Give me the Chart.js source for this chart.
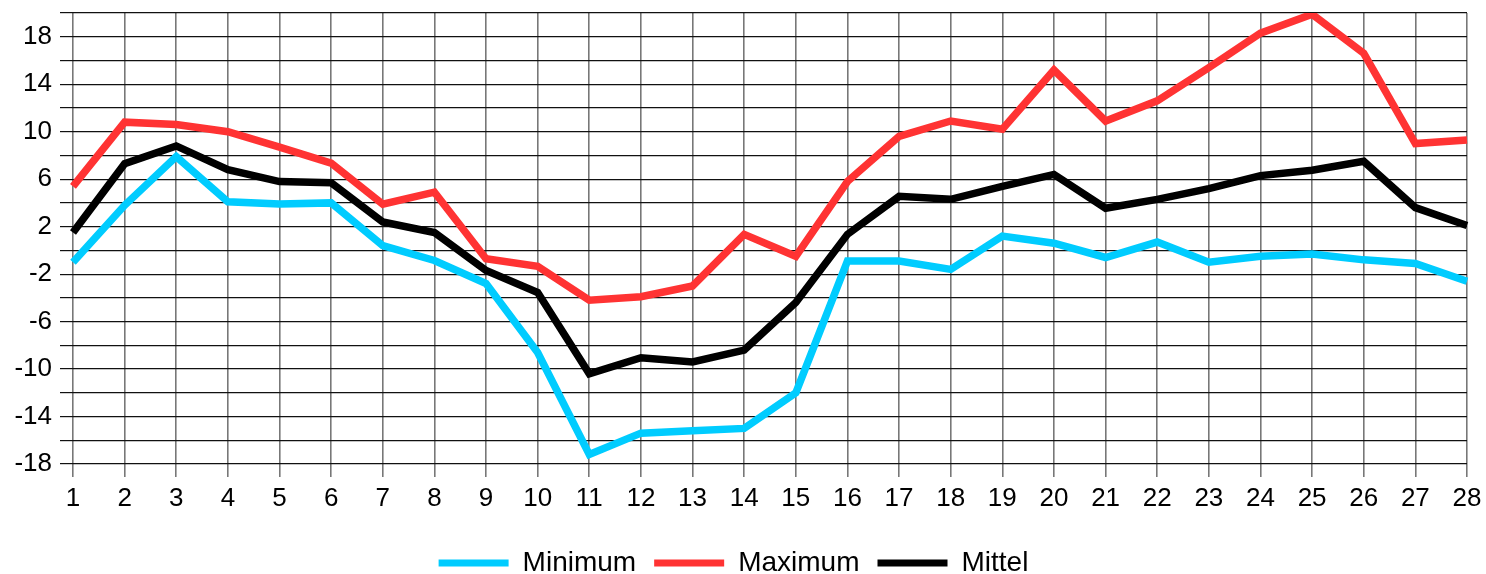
<!DOCTYPE html>
<html lang="de">
<head>
<meta charset="utf-8">
<title>Temperaturen</title>
<script src="https://cdn.jsdelivr.net/npm/chart.js@4.4.0/dist/chart.umd.min.js"></script>
<style>
    html, body { margin: 0; padding: 0; background: #ffffff; }
    #wrap { width: 1486px; height: 574px; position: relative; }
</style>
</head>
<body>
<div id="wrap"><canvas id="tempChart"></canvas></div>
<script>
// Tage des Monats
const days = ['1', '2', '3', '4', '5', '6', '7', '8', '9', '10', '11', '12', '13', '14',
    '15', '16', '17', '18', '19', '20', '21', '22', '23', '24', '25', '26', '27', '28'];

// Tageswerte
const minimum = [-1.0, 3.8, 7.9, 4.1, 3.9, 4.0, 0.4, -0.85, -2.8, -8.6, -17.2, -15.4, -15.2, -15.0,
    -12.0, -0.9, -0.9, -1.6, 1.2, 0.6, -0.6, 0.7, -1.0, -0.5, -0.3, -0.8, -1.1, -2.6];
const maximum = [5.4, 10.8, 10.6, 10.0, 8.7, 7.35, 3.9, 4.9, -0.7, -1.35, -4.2, -3.9, -3.0, 1.35,
    -0.5, 5.8, 9.6, 10.9, 10.2, 15.2, 10.9, 12.6, 15.4, 18.3, 19.9, 16.6, 9.0, 9.3];
const mittel = [1.5, 7.3, 8.8, 6.8, 5.8, 5.7, 2.4, 1.5, -1.7, -3.55, -10.4, -9.05, -9.4, -8.4,
    -4.4, 1.35, 4.55, 4.3, 5.4, 6.4, 3.55, 4.3, 5.2, 6.3, 6.75, 7.5, 3.6, 2.1];

// Y-Achse: Bereich und beschriftete Werte
const yMin = -18;
const yMax = 20;
const yStep = 2;
const yLabels = [-18, -14, -10, -6, -2, 2, 6, 10, 14, 18];

const seriesNames = ['Minimum', 'Maximum', 'Mittel'];
const seriesColors = ['#00ccff', '#ff3333', '#000000'];

Chart.defaults.font.family = '"Liberation Sans", Arial, sans-serif';
Chart.defaults.font.size = 26;
Chart.defaults.color = '#000000';

function makeDataset(label, data, color) {
    return {
        label: label,
        data: data,
        borderColor: color,
        backgroundColor: color,
        borderWidth: 7.5,
        pointRadius: 0,
        pointHoverRadius: 0,
        tension: 0,
        fill: false,
        borderJoinStyle: 'miter'
    };
}

// Randabstaende der Achsen selbst festlegen
function noScalePadding(scale) {
    scale.paddingTop = 0;
    scale.paddingBottom = 0;
    scale.paddingLeft = 0;
    scale.paddingRight = 0;
}

const datasets = [
    makeDataset(seriesNames[0], minimum, seriesColors[0]),
    makeDataset(seriesNames[1], maximum, seriesColors[1]),
    makeDataset(seriesNames[2], mittel, seriesColors[2])
];

new Chart(document.getElementById('tempChart'), {
    type: 'line',
    data: { labels: days, datasets: datasets },
    options: {
        responsive: true,
        maintainAspectRatio: false,
        devicePixelRatio: 1,
        animation: false,
        layout: {
            padding: { left: 0, right: 19, top: 13, bottom: -13 }
        },
        plugins: {
            tooltip: { enabled: false },
            legend: {
                position: 'bottom',
                labels: {
                    boxWidth: 70,
                    boxHeight: 7,
                    padding: 18,
                    font: { size: 28 },
                    generateLabels: chart => chart.data.datasets.map((ds, i) => ({
                        text: ds.label,
                        fillStyle: ds.borderColor,
                        strokeStyle: ds.borderColor,
                        lineWidth: 0,
                        hidden: false,
                        datasetIndex: i
                    }))
                }
            }
        },
        scales: {
            x: {
                type: 'category',
                offset: false,
                border: { display: false },
                grid: {
                    color: '#777777',
                    lineWidth: 1.6,
                    offset: false,
                    tickLength: 13
                },
                ticks: {
                    autoSkip: false,
                    maxRotation: 0,
                    padding: 6
                },
                afterFit: scale => {
                    scale.height = 67;
                    noScalePadding(scale);
                }
            },
            y: {
                min: yMin,
                max: yMax,
                border: { display: false },
                grid: {
                    color: '#111111',
                    lineWidth: 1.2,
                    tickLength: 13
                },
                ticks: {
                    stepSize: yStep,
                    autoSkip: false,
                    padding: 8,
                    callback: value => (yLabels.includes(value) ? String(value) : '')
                },
                afterFit: scale => {
                    scale.width = 73;
                    noScalePadding(scale);
                }
            }
        }
    }
});
</script>
</body>
</html>
